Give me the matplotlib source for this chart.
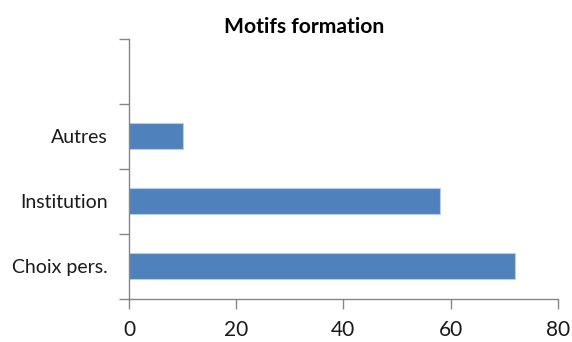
import matplotlib
matplotlib.use("Agg")
import matplotlib.pyplot as plt

plt.rcParams["font.family"] = ["Lato", "DejaVu Sans"]

# Categories (bottom to top); the top slot is left empty
categories = ["Choix pers.", "Institution", "Autres", ""]
values = [72, 58, 10, None]
x_ticks = [0, 20, 40, 60, 80]

C_BAR = "#4F81BD"
C_EDGE = "#B9CDE5"
C_AXIS = "#868686"
C_TEXT = "#1a1a1a"

fig = plt.figure(figsize=(5.72, 3.42), dpi=100)
ax = fig.add_axes([0.2255, 0.1257, 0.975 - 0.2255, 0.8868 - 0.1257])

pos = list(range(len(categories)))
shown = [(p, v) for p, v in zip(pos, values) if v is not None]
ax.barh([p for p, _ in shown], [v for _, v in shown], height=0.4,
        color=C_BAR, edgecolor=C_EDGE, linewidth=0.8)

ax.set_xlim(0, 80)
ax.set_ylim(-0.5, len(categories) - 0.5)
ax.set_xticks(x_ticks)
ax.set_xticklabels([str(t) for t in x_ticks], fontsize=15, color=C_TEXT)

# slot boundary ticks, with category labels centred between them
ax.set_yticks([p - 0.5 for p in pos] + [len(categories) - 0.5])
ax.set_yticklabels([])
ax.set_yticks(pos, minor=True)
ax.set_yticklabels(categories, minor=True, fontsize=14, color=C_TEXT)
ax.tick_params(axis="y", which="minor", length=0, pad=15.5)
ax.tick_params(axis="y", which="major", length=7, color=C_AXIS, width=1)
ax.tick_params(axis="x", length=7, color=C_AXIS, width=1, pad=8)

for side in ("top", "right"):
    ax.spines[side].set_visible(False)
for side in ("left", "bottom"):
    ax.spines[side].set_color(C_AXIS)
    ax.spines[side].set_linewidth(1)

fig.text(0.532, 0.92, "Motifs formation", ha="center", va="center",
         fontsize=15.2, fontweight="bold", color="#000000")

fig.savefig("out.png", dpi=100)
